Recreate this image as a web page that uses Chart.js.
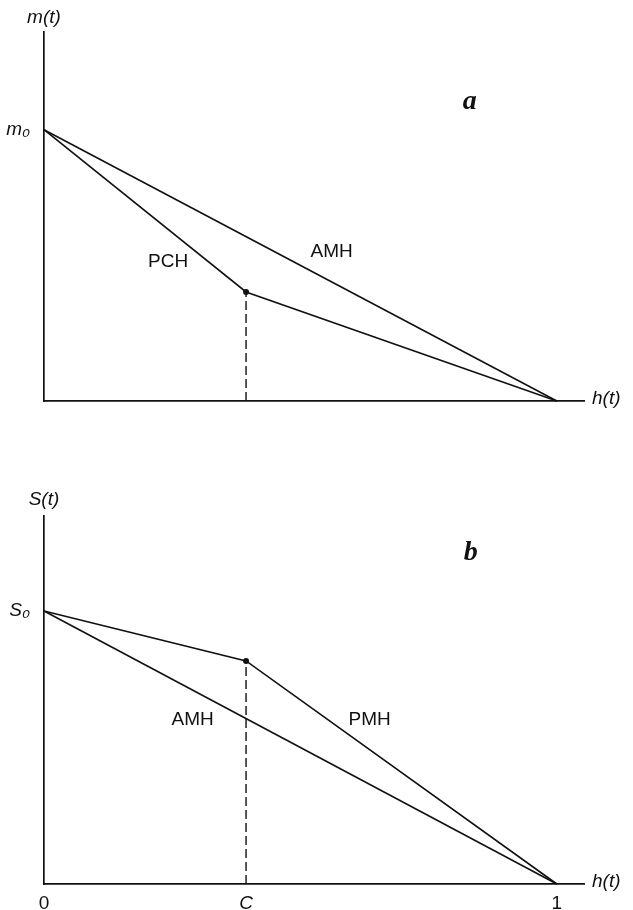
<!DOCTYPE html>
<html>
<head>
<meta charset="utf-8">
<script src="https://cdn.jsdelivr.net/npm/chart.js@4.4.1/dist/chart.umd.min.js"></script>
<style>
  html, body { margin: 0; padding: 0; background: #fff; }
  canvas { display: block; }
</style>
</head>
<body>
<canvas id="chartA" width="633" height="455"></canvas>
<canvas id="chartB" width="633" height="455"></canvas>
<script>
// ---- data ----
const C = 0.394;
const hAMH = [0, 1];
const mAMH = [1, 0];
const hPCH = [0, C, 1];
const mPCH = [1, 0.402, 0];
const hDashA = [C, C];
const mDashA = [0, 0.402];

const sAMH = [1, 0];
const hPMH = [0, C, 1];
const sPMH = [1, 0.817, 0];
const hDashB = [C, C];
const sDashB = [0, 0.817];

const xTickValues = [0, C, 1];
const xTickLabels = ['0', 'C', '1'];
const yTickValuesA = [1];
const yTickLabelsA = ['m\u2080'];
const yTickValuesB = [1];
const yTickLabelsB = ['S\u2080'];

const xMax = 1.053;
const yMaxA = 1.36;
const yMaxB = 1.348;

// ---- helpers ----
const SANS = '"Liberation Sans", Arial, sans-serif';
const SERIF = '"Liberation Serif", "Times New Roman", serif';
const INK = '#111111';
const pts = (xs, ys) => xs.map((v, i) => ({ x: v, y: ys[i] }));

const textPlugin = {
  id: 'texts',
  afterDraw(chart, args, opts) {
    const { ctx, chartArea, scales: { x, y } } = chart;
    ctx.save();
    ctx.fillStyle = INK;
    ctx.textBaseline = 'middle';
    opts.items.forEach(it => {
      ctx.font = it.font;
      ctx.textAlign = it.align || 'center';
      let px, py;
      if (it.anchor === 'yTitle') { px = chartArea.left; py = chartArea.top - it.off; }
      else if (it.anchor === 'xTitle') { px = chartArea.right + it.off; py = y.getPixelForValue(0) - 2; }
      else { px = x.getPixelForValue(it.x); py = y.getPixelForValue(it.y); }
      ctx.fillText(it.text, px, py);
    });
    ctx.restore();
  }
};

function makeChart(id, cfg) {
  const lineDs = (data, extra) => Object.assign({
    data, borderColor: INK, borderWidth: 1.6, pointRadius: 0,
    fill: false, tension: 0, clip: false
  }, extra || {});
  return new Chart(document.getElementById(id), {
    type: 'scatter',
    data: {
      datasets: [
        lineDs(cfg.straight, { showLine: true }),
        lineDs(cfg.kinked, {
          showLine: true,
          pointRadius: [0, 3, 0],
          pointBackgroundColor: INK, pointBorderColor: INK, pointBorderWidth: 0
        }),
        lineDs(cfg.dash, { showLine: true, borderDash: [9, 4], borderWidth: 1.4 })
      ]
    },
    options: {
      responsive: false,
      animation: false,
      events: [],
      layout: { padding: { top: cfg.padTop, right: 49, left: 0, bottom: 0 } },
      plugins: {
        legend: { display: false },
        tooltip: { enabled: false },
        texts: { items: cfg.texts }
      },
      scales: {
        x: {
          type: 'linear', min: 0, max: xMax,
          grid: { display: false },
          border: { display: true, color: INK, width: 1.7 },
          afterFit(s) { s.height = cfg.xHeight; },
          afterBuildTicks(s) { s.ticks = cfg.xTicks.map(v => ({ value: v })); },
          ticks: {
            display: cfg.showXTicks,
            padding: 0,
            color: INK,
            autoSkip: false,
            maxRotation: 0,
            font: c => ({ family: SANS, size: 19, style: (c.tick && c.tick.label === 'C') ? 'italic' : 'normal' }),
            callback: (v) => { const i = xTickValues.indexOf(v); return i >= 0 ? xTickLabels[i] : ''; }
          }
        },
        y: {
          type: 'linear', min: 0, max: cfg.yMax,
          grid: { display: false },
          border: { display: true, color: INK, width: 1.7 },
          afterFit(s) { s.width = 44; },
          afterBuildTicks(s) { s.ticks = cfg.yTickValues.map(v => ({ value: v })); },
          ticks: {
            padding: 6,
            color: INK,
            font: { family: SANS, size: 19, style: 'italic' },
            callback: (v) => { const i = cfg.yTickValues.indexOf(v); return i >= 0 ? cfg.yTickLabels[i] : ''; }
          }
        }
      }
    },
    plugins: [textPlugin]
  });
}

makeChart('chartA', {
  straight: pts(hAMH, mAMH),
  kinked: pts(hPCH, mPCH),
  dash: pts(hDashA, mDashA),
  padTop: 32, xHeight: 54, yMax: yMaxA,
  xTicks: [], showXTicks: false,
  yTickValues: yTickValuesA, yTickLabels: yTickLabelsA,
  texts: [
    { text: 'm(t)', anchor: 'yTitle', off: 14, font: 'italic 19px ' + SANS },
    { text: 'h(t)', anchor: 'xTitle', off: 8, align: 'left', font: 'italic 19px ' + SANS },
    { text: 'PCH', x: 0.242, y: 0.513, font: '19px ' + SANS },
    { text: 'AMH', x: 0.561, y: 0.550, font: '19px ' + SANS },
    { text: 'a', x: 0.830, y: 1.103, font: 'italic bold 28px ' + SERIF }
  ]
});

makeChart('chartB', {
  straight: pts(hAMH, sAMH),
  kinked: pts(hPMH, sPMH),
  dash: pts(hDashB, sDashB),
  padTop: 61, xHeight: 26, yMax: yMaxB,
  xTicks: xTickValues, showXTicks: true,
  yTickValues: yTickValuesB, yTickLabels: yTickLabelsB,
  texts: [
    { text: 'S(t)', anchor: 'yTitle', off: 16, font: 'italic 19px ' + SANS },
    { text: 'h(t)', anchor: 'xTitle', off: 8, align: 'left', font: 'italic 19px ' + SANS },
    { text: 'AMH', x: 0.290, y: 0.601, font: '19px ' + SANS },
    { text: 'PMH', x: 0.635, y: 0.601, font: '19px ' + SANS },
    { text: 'b', x: 0.832, y: 1.212, font: 'italic bold 28px ' + SERIF }
  ]
});
</script>
</body>
</html>
